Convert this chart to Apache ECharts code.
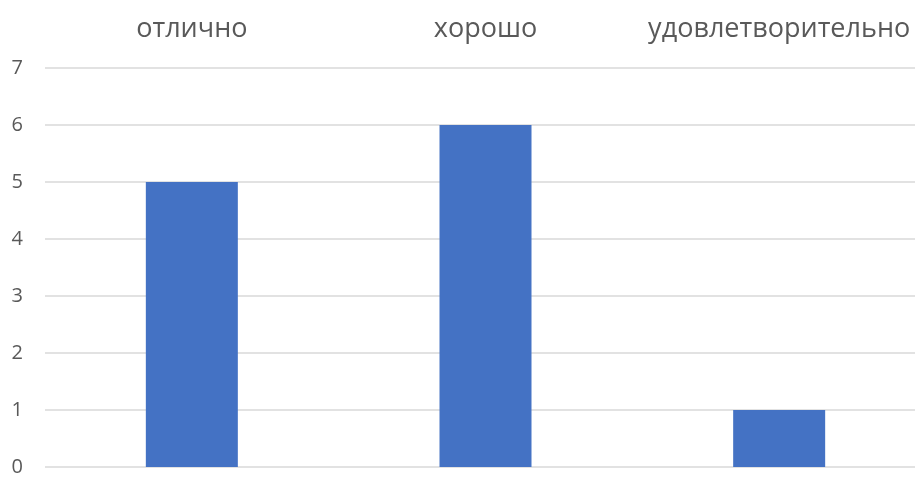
<!DOCTYPE html>
<html><head><meta charset="utf-8">
<script src="https://cdn.jsdelivr.net/npm/echarts@6/dist/echarts.min.js"></script>
<style>html,body{margin:0;padding:0;background:#fff;overflow:hidden;width:915px;height:477px}#c{width:926px;height:477px}</style>
</head><body><div id="c"></div>
<script>
const categories = ['отлично', 'хорошо', 'удовлетворительно'];
const values = [5, 6, 1];
const yTicks = [0, 7, 1];
const chart = echarts.init(document.getElementById('c'));
chart.setOption({
  animation: false,
  grid: { left: 45, right: 0, top: 68, bottom: 8, containLabel: false },
  xAxis: {
    type: 'category', data: categories, position: 'top',
    axisLine: { show: false }, axisTick: { show: false },
    axisLabel: { color: '#595959', fontSize: 27, fontFamily: 'Open Sans', margin: 25, interval: 0 }
  },
  yAxis: {
    type: 'value', min: yTicks[0], max: yTicks[1], interval: yTicks[2],
    axisLine: { show: false }, axisTick: { show: false },
    axisLabel: { color: '#595959', fontSize: 20, fontFamily: 'Open Sans', margin: 22 },
    splitLine: { lineStyle: { color: '#d9d9d9', width: 1.5 } }
  },
  series: [{ type: 'bar', data: values, barWidth: 92, itemStyle: { color: '#4472C4' } }]
});
</script></body></html>
